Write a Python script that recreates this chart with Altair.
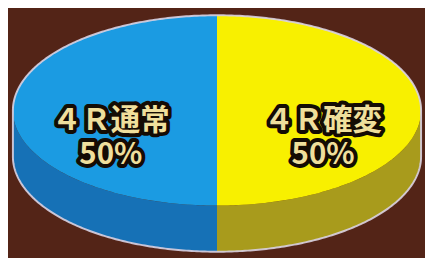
import math
import numpy as np
import pandas as pd
import altair as alt

# ---- data ----
categories = ["４Ｒ通常", "４Ｒ確変"]
values = [50, 50]
top_colors = ["#1b9be2", "#f8f000"]
side_colors = ["#1671b6", "#a89b1c"]

# ---- layout (chart coordinates, px) ----
CX, CY = 213, 102
RX, RY = 208, 97
DEPTH = 47
N = 120


def pt(t, dy=0.0):
    return [CX - RX * math.sin(t), CY - RY * math.cos(t) + dy]


total = float(sum(values))
top_feats, side_feats, label_rows = [], [], []
cum = 0.0
for cat, v in zip(categories, values):
    t0 = 2 * math.pi * cum / total
    t1 = 2 * math.pi * (cum + v) / total
    arc = [pt(t) for t in np.linspace(t0, t1, N)]
    ring = [[CX, CY]] + arc + [[CX, CY]]
    top_feats.append({"type": "Feature", "properties": {"cat": cat},
                      "geometry": {"type": "Polygon", "coordinates": [ring]}})
    f0, f1 = max(t0, math.pi / 2), min(t1, 3 * math.pi / 2)
    if f1 > f0:
        ts = np.linspace(f0, f1, N)
        upper = [pt(t) for t in ts]
        lower = [pt(t, DEPTH) for t in ts[::-1]]
        ring = upper + lower + [upper[0]]
        side_feats.append({"type": "Feature", "properties": {"cat": cat},
                           "geometry": {"type": "Polygon", "coordinates": [ring]}})
    tm = (t0 + t1) / 2
    label_rows.append({
        "x": CX - 0.52 * RX * math.sin(tm),
        "y": CY + 0.11 * RY,
        "label": f"{cat}\n{round(100 * v / total)}%",
    })
    cum += v

# silhouette outline
back = [pt(t) for t in np.linspace(-math.pi / 2, math.pi / 2, 2 * N)]
front = [pt(t, DEPTH) for t in np.linspace(math.pi / 2, 3 * math.pi / 2, 2 * N)]
outline_ring = back + front + [back[0]]
outline_feats = [{"type": "Feature", "properties": {},
                  "geometry": {"type": "LineString", "coordinates": outline_ring}}]

labels = pd.DataFrame(label_rows)

proj = dict(type="identity", scale=1, translate=[0, 0])

sides = alt.Chart(alt.Data(values=side_feats)).mark_geoshape(
    strokeWidth=0
).encode(
    fill=alt.Fill("properties.cat:N",
                  scale=alt.Scale(domain=categories, range=side_colors), legend=None)
).project(**proj)

tops = alt.Chart(alt.Data(values=top_feats)).mark_geoshape(
    strokeWidth=0
).encode(
    fill=alt.Fill("properties.cat:N",
                  scale=alt.Scale(domain=categories, range=top_colors), legend=None)
).project(**proj)

outline = alt.Chart(alt.Data(values=outline_feats)).mark_geoshape(
    filled=False, stroke="#d9d2e2", strokeWidth=2, strokeOpacity=0.9
).project(**proj)

text_kw = dict(font="Noto Sans CJK JP", fontSize=30, fontWeight="bold",
               lineBreak="\n", lineHeight=35, align="center", baseline="middle")

label_back = alt.Chart(labels).mark_text(
    fill="#140c04", stroke="#140c04", strokeWidth=8, strokeJoin="round", **text_kw
).encode(longitude="x:Q", latitude="y:Q", text="label:N").project(**proj)

label_front = alt.Chart(labels).mark_text(
    fill="#efdf9c", **text_kw
).encode(longitude="x:Q", latitude="y:Q", text="label:N").project(**proj)

chart = alt.layer(sides, tops, outline, label_back, label_front).resolve_scale(
    fill="independent"
).properties(
    width=425, height=250, padding=0, autosize="none", background="#532417"
).configure_view(stroke=None)

chart.save("out.html", embed_options={"renderer": "svg", "actions": False})
